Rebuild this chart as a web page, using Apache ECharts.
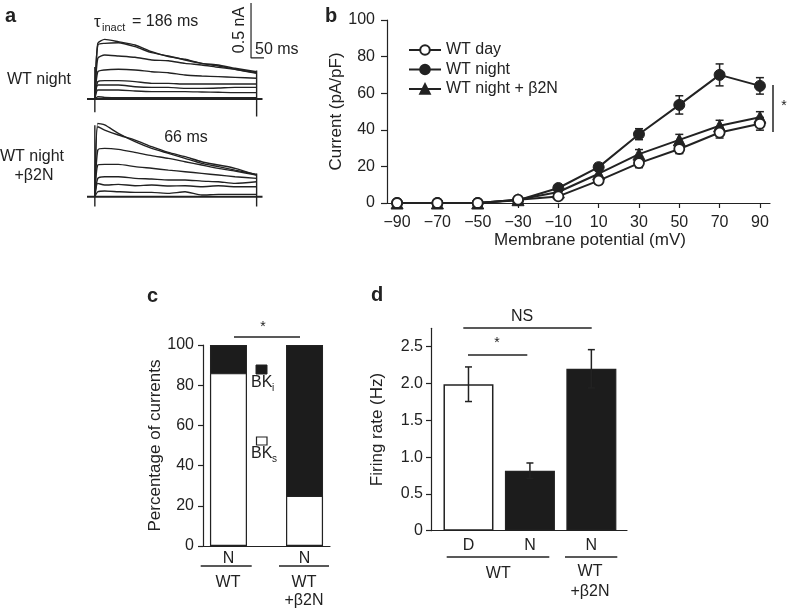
<!DOCTYPE html>
<html><head><meta charset="utf-8">
<script src="https://cdn.jsdelivr.net/npm/echarts@6/dist/echarts.min.js"></script>
<style>html,body{margin:0;padding:0;background:#fff}#c{width:788px;height:611px}</style>
</head><body><div id="c"></div>
<script>
// ---------- Panel a: current traces (nA) at sampled times (ms) ----------
const traceTimes = [0, 3, 10, 24, 41, 58, 75, 92, 109, 126, 143, 165];
const nightTraces = [
  [0, 0.506, 0.542, 0.521, 0.491, 0.430, 0.385, 0.361, 0.324, 0.309, 0.279, 0.248],
  [0, 0.491, 0.506, 0.512, 0.476, 0.421, 0.391, 0.355, 0.324, 0.300, 0.270, 0.233],
  [0, 0.370, 0.400, 0.391, 0.379, 0.355, 0.348, 0.324, 0.309, 0.288, 0.270, 0.239],
  [0, 0.248, 0.264, 0.270, 0.264, 0.248, 0.239, 0.218, 0.209, 0.203, 0.197, 0.188],
  [0, 0.158, 0.167, 0.167, 0.158, 0.142, 0.142, 0.136, 0.136, 0.136, 0.136, 0.136],
  [0, 0.127, 0.127, 0.127, 0.112, 0.106, 0.106, 0.097, 0.097, 0.100, 0.106, 0.106],
  [0, 0.082, 0.082, 0.082, 0.073, 0.067, 0.067, 0.067, 0.064, 0.061, 0.058, 0.058],
  [0, 0.021, 0.015, 0.012, 0.012, 0.012, 0.012, 0.012, 0.012, 0.012, 0.012, 0.012]
];
const b2nTraces = [
  [0, 0.667, 0.652, 0.576, 0.500, 0.439, 0.394, 0.348, 0.303, 0.273, 0.242, 0.203],
  [0, 0.636, 0.606, 0.561, 0.515, 0.455, 0.403, 0.364, 0.318, 0.288, 0.258, 0.197],
  [0, 0.424, 0.439, 0.430, 0.403, 0.373, 0.348, 0.318, 0.288, 0.258, 0.233, 0.197],
  [0, 0.288, 0.294, 0.294, 0.273, 0.258, 0.242, 0.227, 0.212, 0.197, 0.182, 0.167],
  [0, 0.167, 0.182, 0.182, 0.167, 0.161, 0.152, 0.152, 0.142, 0.136, 0.121, 0.136],
  [0, 0.121, 0.106, 0.112, 0.100, 0.106, 0.097, 0.100, 0.091, 0.100, 0.091, 0.091],
  [0, 0.045, 0.052, 0.045, 0.039, 0.039, 0.030, 0.045, 0.015, 0.021, 0.021, 0.021]
];
const baselineSpan = [-8, 171];
const nightArtifacts = [[0, -0.12, 0.29], [165, -0.16, 0.26]];
const b2nArtifacts = [[0, -0.09, 0.65], [165, -0.09, 0.21]];
const scaleBarMs = 50, scaleBarNA = 0.5;

// ---------- Panel b: I-V curves ----------
const potentials = [-90, -70, -50, -30, -10, 10, 30, 50, 70, 90];
const wtDay = [0, 0, 0, 1.8, 3.6, 12.2, 21.8, 29.5, 38.5, 43.3];
const wtDayErr = [0.5, 0.5, 0.5, 1, 1.5, 2, 2.5, 2.5, 3, 3.5];
const wtNight = [0, 0, 0, 1.5, 8.2, 19.6, 37.6, 53.6, 70, 64];
const wtNightErr = [0.5, 0.5, 0.5, 1, 1.5, 2, 3, 5, 6, 4.5];
const wtB2N = [0, 0, 0, 1.8, 6, 16, 26.7, 34.5, 42.2, 46.9];
const wtB2NErr = [0.5, 0.5, 0.5, 1, 1.5, 2, 2.5, 3, 3, 3];

// ---------- Panel c: percentage of currents ----------
const cPositions = [1, 3];
const cLabels = ['N', 'N'];
const bkS = [86, 25];
const bkI = [14, 75];

// ---------- Panel d: firing rate ----------
const dPositions = [1, 2, 3];
const dLabels = ['D', 'N', 'N'];
const firingRate = [1.99, 0.815, 2.20];
const firingErr = [0.235, 0.105, 0.26];
const firingTicks = [0, 0.5, 1.0, 1.5, 2.0, 2.5];

const FONT = 'Liberation Sans, Arial, sans-serif';
const INK = '#222';

function traceSeries(traces, gi) {
  return traces.map(tr => ({
    type: 'line', xAxisIndex: gi, yAxisIndex: gi, showSymbol: false, silent: true,
    lineStyle: { color: INK, width: 1.4 }, smooth: 0.2,
    data: traceTimes.map((t, i) => [t, tr[i]])
  }));
}
function artifactSeries(arts, gi) {
  const out = arts.map(a => ({
    type: 'line', xAxisIndex: gi, yAxisIndex: gi, showSymbol: false, silent: true,
    lineStyle: { color: INK, width: 1.4 }, data: [[a[0], a[1]], [a[0], a[2]]]
  }));
  out.push({
    type: 'line', xAxisIndex: gi, yAxisIndex: gi, showSymbol: false, silent: true,
    lineStyle: { color: INK, width: 2 }, data: [[baselineSpan[0], 0], [baselineSpan[1], 0]]
  });
  return out;
}
function errSeries(xs, ys, errs, ai, cap, lowerToo) {
  return {
    type: 'custom', xAxisIndex: ai, yAxisIndex: ai, silent: true, z: 1,
    encode: { x: 0, y: [1, 2] },
    data: xs.map((x, i) => [x, lowerToo ? ys[i] - errs[i] : ys[i], ys[i] + errs[i]]),
    renderItem: (params, api) => {
      const x = api.value(0), lo = api.value(1), hi = api.value(2);
      const p1 = api.coord([x, hi]), p2 = api.coord([x, lo]);
      const st = { stroke: INK, lineWidth: 1.5 };
      const ch = [
        { type: 'line', shape: { x1: p1[0], y1: p1[1], x2: p2[0], y2: p2[1] }, style: st },
        { type: 'line', shape: { x1: p1[0] - cap, y1: p1[1], x2: p1[0] + cap, y2: p1[1] }, style: st }
      ];
      if (lowerToo) ch.push({ type: 'line', shape: { x1: p2[0] - cap, y1: p2[1], x2: p2[0] + cap, y2: p2[1] }, style: st });
      return { type: 'group', children: ch };
    }
  };
}

const chart = echarts.init(document.getElementById('c'), null, { renderer: 'canvas' });

const hiddenAxis = (min, max, gi) => ({ type: 'value', gridIndex: gi, min, max, show: false, splitLine: { show: false } });
const axisCommon = {
  axisLine: { show: true, onZero: false, lineStyle: { color: INK, width: 1.2 } },
  axisTick: { show: true, length: 5, lineStyle: { color: INK, width: 1.2 } },
  axisLabel: { color: INK, fontSize: 16, fontFamily: FONT },
  splitLine: { show: false }
};

const option = {
  animation: false,
  textStyle: { fontFamily: FONT, color: INK },
  grid: [
    { left: 87, top: 33, width: 175.5, height: 88, outerBoundsMode: 'none' },
    { left: 87, top: 108.7, width: 175.5, height: 110, outerBoundsMode: 'none' },
    { left: 387, top: 20, width: 383, height: 183, outerBoundsMode: 'none' },
    { left: 203, top: 345, width: 127, height: 201, outerBoundsMode: 'none' },
    { left: 431, top: 328.3, width: 196, height: 202.4, outerBoundsMode: 'none' }
  ],
  xAxis: [
    hiddenAxis(-8, 171, 0),
    hiddenAxis(-8, 171, 1),
    Object.assign({}, axisCommon, {
      type: 'value', gridIndex: 2, min: -95, max: 95,
      axisTick: Object.assign({}, axisCommon.axisTick, { customValues: potentials }),
      axisLabel: Object.assign({}, axisCommon.axisLabel, { customValues: potentials, margin: 12,
        formatter: v => String(v).replace('-', '\u2212') })
    }),
    Object.assign({}, axisCommon, {
      type: 'value', gridIndex: 3, min: 0.33, max: 3.67,
      axisTick: { show: false },
      axisLabel: Object.assign({}, axisCommon.axisLabel, { customValues: cPositions, margin: 5,
        formatter: v => cLabels[cPositions.indexOf(v)] || '' })
    }),
    Object.assign({}, axisCommon, {
      type: 'value', gridIndex: 4, min: 0.39, max: 3.58,
      axisTick: { show: false },
      axisLabel: Object.assign({}, axisCommon.axisLabel, { customValues: dPositions, margin: 7,
        formatter: v => dLabels[dPositions.indexOf(v)] || '' })
    })
  ],
  yAxis: [
    hiddenAxis(-0.2, 0.6, 0),
    hiddenAxis(-0.2, 0.8, 1),
    Object.assign({}, axisCommon, {
      type: 'value', gridIndex: 2, min: 0, max: 100, interval: 20,
      axisTick: Object.assign({}, axisCommon.axisTick, { length: 6 }),
      axisLabel: Object.assign({}, axisCommon.axisLabel, { margin: 12 }),
      name: 'Current (pA/pF)', nameLocation: 'middle', nameGap: 27,
      nameTextStyle: { fontSize: 17, color: INK, fontFamily: FONT }
    }),
    Object.assign({}, axisCommon, {
      type: 'value', gridIndex: 3, min: 0, max: 100, interval: 20,
      axisLabel: Object.assign({}, axisCommon.axisLabel, { margin: 9 }),
      name: 'Percentage of currents', nameLocation: 'middle', nameGap: 38,
      nameTextStyle: { fontSize: 17, color: INK, fontFamily: FONT }
    }),
    Object.assign({}, axisCommon, {
      type: 'value', gridIndex: 4, min: 0, max: 2.75,
      axisTick: Object.assign({}, axisCommon.axisTick, { customValues: firingTicks }),
      axisLabel: Object.assign({}, axisCommon.axisLabel, { customValues: firingTicks, margin: 8,
        formatter: v => v === 0 ? '0' : v.toFixed(1) }),
      name: 'Firing rate (Hz)', nameLocation: 'middle', nameGap: 45,
      nameTextStyle: { fontSize: 17, color: INK, fontFamily: FONT }
    })
  ],
  legend: {
    data: ['WT day', 'WT night', 'WT night + \u03b22N'],
    orient: 'vertical', left: 408, top: 42, padding: 0, itemWidth: 32, itemHeight: 12, itemGap: 3.5,
    textStyle: { fontSize: 16, color: INK, fontFamily: FONT },
    selectedMode: false
  },
  series: [].concat(
    traceSeries(nightTraces, 0),
    artifactSeries(nightArtifacts, 0),
    traceSeries(b2nTraces, 1),
    artifactSeries(b2nArtifacts, 1),
    [
      {
        type: 'line', xAxisIndex: 0, yAxisIndex: 0, showSymbol: false, silent: true,
        clip: false, lineStyle: { color: INK, width: 1.2 },
        data: [[159.3, 0.373 + scaleBarNA], [159.3, 0.373], [159.3 + scaleBarMs, 0.373]]
      },
      errSeries(potentials, wtNight, wtNightErr, 2, 4, true),
      errSeries(potentials, wtB2N, wtB2NErr, 2, 4, true),
      errSeries(potentials, wtDay, wtDayErr, 2, 4, true),
      {
        name: 'WT night', type: 'line', xAxisIndex: 2, yAxisIndex: 2, z: 3,
        symbol: 'circle', symbolSize: 11, lineStyle: { color: INK, width: 2 },
        itemStyle: { color: INK, borderColor: INK, borderWidth: 1 },
        data: potentials.map((p, i) => [p, wtNight[i]])
      },
      {
        name: 'WT night + \u03b22N', type: 'line', xAxisIndex: 2, yAxisIndex: 2, z: 3,
        symbol: 'triangle', symbolSize: 12, lineStyle: { color: INK, width: 2 },
        itemStyle: { color: INK, borderColor: INK, borderWidth: 1 },
        data: potentials.map((p, i) => [p, wtB2N[i]])
      },
      {
        name: 'WT day', type: 'line', xAxisIndex: 2, yAxisIndex: 2, z: 4,
        symbol: 'circle', symbolSize: 10, lineStyle: { color: INK, width: 2 },
        itemStyle: { color: '#fff', borderColor: INK, borderWidth: 1.8 },
        data: potentials.map((p, i) => [p, wtDay[i]])
      },
      {
        // BKi stacked on top of BKs: full column drawn black, BKs overlaid in white
        name: 'BKi', type: 'bar', xAxisIndex: 3, yAxisIndex: 3, barWidth: 37, barGap: '-100%', z: 2,
        itemStyle: { color: '#1c1c1c', borderColor: INK, borderWidth: 1.2 },
        data: cPositions.map((p, i) => [p, bkS[i] + bkI[i]])
      },
      {
        name: 'BKs', type: 'bar', xAxisIndex: 3, yAxisIndex: 3, barWidth: 37, barGap: '-100%', z: 3,
        itemStyle: { color: '#fff', borderColor: INK, borderWidth: 1.2 },
        data: cPositions.map((p, i) => [p, bkS[i]])
      },
      {
        name: 'Firing', type: 'bar', xAxisIndex: 4, yAxisIndex: 4, barWidth: 50,
        data: dPositions.map((p, i) => ({
          value: [p, firingRate[i]],
          itemStyle: i === 0 ? { color: '#fff', borderColor: INK, borderWidth: 1.5 }
                             : { color: '#1c1c1c', borderColor: INK, borderWidth: 1.2 }
        }))
      },
      Object.assign(errSeries(dPositions, firingRate, firingErr, 4, 3.5, true), { z: 5 })
    ]
  ),
  graphic: []
};

function txt(text, x, y, size, opts) {
  opts = opts || {};
  return {
    type: 'text', x, y, rotation: opts.rotation || 0, silent: true,
    style: {
      text, fill: INK, font: (opts.bold ? 'bold ' : '') + size + 'px ' + FONT,
      align: opts.align || 'center', verticalAlign: 'middle'
    }
  };
}
function seg(x1, y1, x2, y2, w) {
  return { type: 'line', silent: true, shape: { x1, y1, x2, y2 }, style: { stroke: INK, lineWidth: w || 1.3 } };
}
option.graphic = [
  // panel a
  txt('a', 5, 16, 20, { bold: true, align: 'left' }),
  txt('\u03c4', 94, 22, 17, { align: 'left' }),
  txt('inact', 102, 28, 11, { align: 'left' }),
  txt('= 186 ms', 132, 22, 16, { align: 'left' }),
  txt('0.5 nA', 240, 30, 16, { rotation: Math.PI / 2 }),
  txt('50 ms', 255, 50, 16, { align: 'left' }),
  txt('WT night', 7, 80, 16, { align: 'left' }),
  txt('WT night', 0, 157, 16, { align: 'left' }),
  txt('+\u03b22N', 34, 176, 16),
  txt('66 ms', 186, 138, 16),
  // panel b
  txt('b', 325, 16, 20, { bold: true, align: 'left' }),
  txt('Membrane potential (mV)', 590, 240, 17),
  seg(773, 85, 773, 132, 1.5),
  txt('*', 784, 106, 14),
  // panel c
  txt('c', 147, 296, 20, { bold: true, align: 'left' }),
  seg(234, 337, 300, 337),
  txt('*', 263, 327, 14),
  { type: 'rect', silent: true, shape: { x: 256, y: 365, width: 11, height: 9 }, style: { fill: '#1c1c1c', stroke: INK, lineWidth: 1 } },
  txt('BK', 251, 383, 16, { align: 'left' }),
  txt('i', 272, 388, 10, { align: 'left' }),
  { type: 'rect', silent: true, shape: { x: 256.5, y: 437, width: 10.5, height: 8 }, style: { fill: '#fff', stroke: INK, lineWidth: 1.2 } },
  txt('BK', 251, 454, 16, { align: 'left' }),
  txt('s', 272, 459, 10, { align: 'left' }),
  seg(200.7, 566, 251.7, 566),
  seg(279, 566, 329, 566),
  txt('WT', 228, 583, 16),
  txt('WT', 304, 583, 16),
  txt('+\u03b22N', 304, 601, 16),
  // panel d
  txt('d', 371, 295, 20, { bold: true, align: 'left' }),
  seg(463.3, 328, 591.7, 328),
  txt('NS', 522, 317, 16),
  seg(468, 355, 527.3, 355),
  txt('*', 497, 343, 14),
  seg(446.7, 557, 549.3, 557),
  seg(565, 557, 617.3, 557),
  txt('WT', 498.3, 574, 16),
  txt('WT', 590, 572, 16),
  txt('+\u03b22N', 590, 592, 16)
];

chart.setOption(option);
</script>
</body></html>
